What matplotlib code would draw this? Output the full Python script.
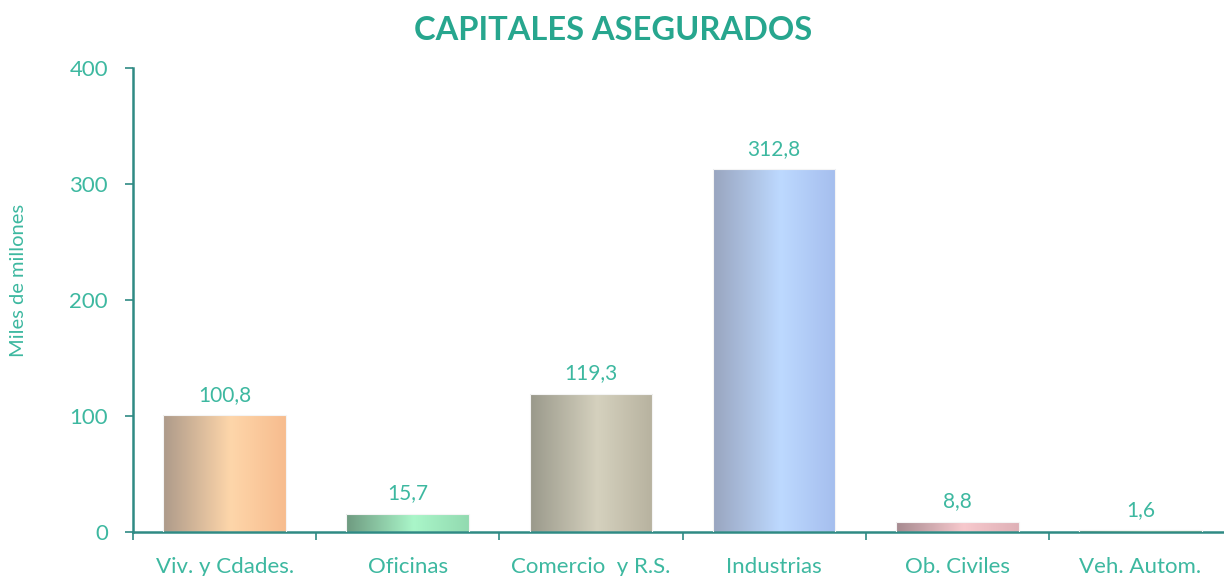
import numpy as np
import matplotlib
matplotlib.use('Agg')
import matplotlib.pyplot as plt
from matplotlib.colors import LinearSegmentedColormap

categories = ["Viv. y Cdades.", "Oficinas", "Comercio  y R.S.", "Industrias", "Ob. Civiles", "Veh. Autom."]
values = [100.8, 15.7, 119.3, 312.8, 8.8, 1.6]
labels = ["100,8", "15,7", "119,3", "312,8", "8,8", "1,6"]
# left / highlight / right colours of each bar's horizontal gradient
grads = [
    ("#ad9a8a", "#fed6aa", "#f7bc8e"),
    ("#6e9a80", "#aaf6c9", "#92dab0"),
    ("#9a998b", "#d5d1be", "#b7b29f"),
    ("#99a5bf", "#bdd9ff", "#a5beee"),
    ("#a68a90", "#f7c9cd", "#dfb1b7"),
    ("#8aa070", "#d8e8a0", "#b8c880"),
]

TEAL = "#3db8a0"
AXIS = "#2f8a84"
plt.rcParams['font.family'] = ['Lato', 'DejaVu Sans']

fig = plt.figure(figsize=(12.24, 5.76), dpi=100)
ax = fig.add_axes([133/1224, 44/576, (1232-133)/1224, (532-68)/576])

x = np.arange(len(categories))
bars = ax.bar(x, values, width=0.67, facecolor='none', edgecolor='none', zorder=2)

grad = np.linspace(0, 1, 256).reshape(1, -1)
for b, (c0, c1, c2) in zip(bars, grads):
    cmap = LinearSegmentedColormap.from_list('g', [(0, c0), (0.55, c1), (1, c2)])
    x0, w, h = b.get_x(), b.get_width(), b.get_height()
    im = ax.imshow(grad, cmap=cmap, aspect='auto', extent=(x0, x0 + w, 0, h),
                   zorder=2, interpolation='bilinear')
    im.set_clip_path(b)
    ax.add_patch(plt.Rectangle((x0, 0), w, h, fill=False, edgecolor='#f4f4f4',
                               linewidth=0.8, zorder=3))

for xi, v, lab in zip(x, values, labels):
    ax.text(xi, v + 9, lab, ha='center', va='bottom', color=TEAL, fontsize=15)

ax.set_xlim(-0.5, len(categories) - 0.5)
ax.set_ylim(0, 400)
ax.set_yticks([0, 100, 200, 300, 400])
ax.set_xticks(np.arange(len(categories) + 1) - 0.5, minor=True)
ax.set_xticks(x)
ax.set_xticklabels(categories)
ax.tick_params(axis='x', which='major', length=0, pad=18, labelcolor=TEAL, labelsize=16)
ax.tick_params(axis='x', which='minor', length=6, color=AXIS, width=1.2)
ax.tick_params(axis='y', length=6, color=AXIS, width=1.2, labelcolor=TEAL, labelsize=16, pad=12)

for s in ['top', 'right']:
    ax.spines[s].set_visible(False)
for s in ['left', 'bottom']:
    ax.spines[s].set_color(AXIS)
    ax.spines[s].set_linewidth(1.8)

fig.text(10/1224, 1 - 280/576, "Miles de millones", rotation=90, color=TEAL,
         fontsize=14.5, ha='left', va='center')
fig.text(613/1224, 1 - 31/576, "CAPITALES ASEGURADOS", color="#27a68e",
         fontsize=23.5, fontweight='bold', ha='center', va='center')

fig.savefig("out.png", dpi=100)
